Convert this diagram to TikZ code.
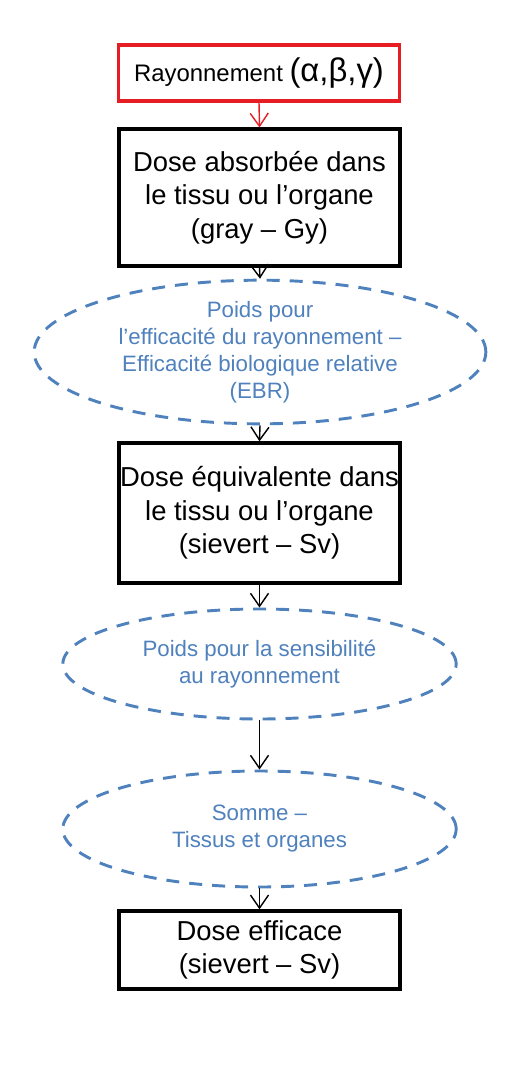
\documentclass[tikz,border=0pt]{standalone}
\usepackage{fontspec}
\setmainfont{Liberation Sans}
\usetikzlibrary{arrows.meta,shapes.geometric}
\definecolor{rouge}{RGB}{230,30,35}
\definecolor{bleu}{RGB}{79,129,189}
\definecolor{encre}{RGB}{0,0,0}
\tikzset{
  >={Straight Barb[length=3.9mm,width=5.4mm]},
  rayon/.style={draw=rouge,line width=2.6pt,minimum width=8.45cm,minimum height=1.68cm,
    inner sep=0pt,font=\fontsize{20.4}{24}\selectfont},
  dosebox/.style={draw=encre,line width=2.9pt,minimum width=8.42cm,minimum height=#1,
    inner sep=0pt,align=center,font=\fontsize{23.4}{28.4}\selectfont},
  dosebox/.default=4.1cm,
  poids/.style={ellipse,draw=bleu,line width=2.5pt,dash pattern=on 3.9mm off 3mm,
    inner sep=0pt,align=center,text=bleu,font=\fontsize{19}{23}\selectfont},
  fleche/.style={->,line width=1.2pt,draw=#1},
  fleche/.default=encre,
}
\begin{document}
\begin{tikzpicture}[x=0.03cm,y=-0.03cm]
  \useasboundingbox (0,0) rectangle (530,1066);
  % source
  \node[rayon] (ray) at (259,73) {Rayonnement {\fontsize{28}{30}\selectfont(α,β,γ)}};
  % doses and weights
  \node[dosebox] (abs) at (259.5,197.5) {Dose absorbée dans\\le tissu ou l’organe\\(gray – Gy)};
  \node[poids,minimum width=13.55cm,minimum height=3.78cm] (ebr) at (260,352)
    {Poids pour\\l’efficacité du rayonnement –\\Efficacité biologique relative\\(EBR)};
  \node[dosebox=4.2cm] (equ) at (259.5,513) {Dose équivalente dans\\le tissu ou l’organe\\(sievert – Sv)};
  \node[poids,minimum width=11.8cm,minimum height=3.3cm] (sens) at (259.5,664)
    {Poids pour la sensibilité\\au rayonnement};
  \node[poids,minimum width=11.8cm,minimum height=3.48cm] (som) at (259.5,829)
    {Somme –\\Tissus et organes};
  \node[dosebox=2.34cm] (eff) at (259.5,950) {Dose efficace\\(sievert – Sv)};
  % connectors
  \draw[fleche=rouge] (ray.south) -- (abs.north);
  \draw[fleche] (abs.south) -- (ebr.north);
  \draw[fleche] (ebr.south) -- (equ.north);
  \draw[fleche] (equ.south) -- (sens.north);
  \draw[fleche] (sens.south) -- (som.north);
  \draw[fleche] (som.south) -- (eff.north);
\end{tikzpicture}
\end{document}
